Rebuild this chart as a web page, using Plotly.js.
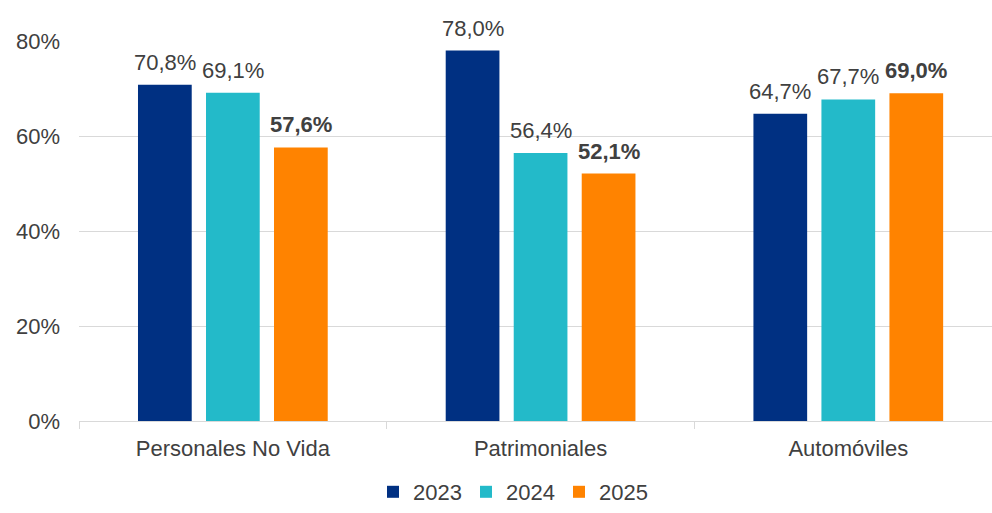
<!DOCTYPE html>
<html>
<head>
<meta charset="utf-8">
<script src="https://cdn.plot.ly/plotly-3.0.1.min.js"></script>
<style>html,body{margin:0;padding:0;background:#fff;}#chart{width:992px;height:513px;}</style>
</head>
<body>
<div id="chart"></div>
<script>
const categories = ["Personales No Vida", "Patrimoniales", "Automóviles"];
const seriesNames = ["2023", "2024", "2025"];
const values2023 = [70.8, 78.0, 64.7];
const values2024 = [69.1, 56.4, 67.7];
const values2025 = [57.6, 52.1, 69.0];
const yTickVals = [0, 20, 40, 60, 80];
const yTickText = ["0%", "20%", "40%", "60%", "80%"];

const colors = ["#003082", "#23BAC9", "#FF8300"];
const allValues = [values2023, values2024, values2025];
const boldSeries = [false, false, true];
const FONT = "Liberation Sans, Arial, sans-serif";
const TXT = "#404040";
const bargap = 0.337;

function fmt(v) { return v.toFixed(1).replace(".", ",") + "%"; }

const traces = allValues.map((vals, i) => ({
  type: "bar",
  name: seriesNames[i],
  x: categories,
  y: vals,
  marker: { color: colors[i] },
  hoverinfo: "skip"
}));

const slot = (1 - bargap) / 3;
const annotations = [];
allValues.forEach((vals, i) => {
  vals.forEach((v, j) => {
    annotations.push({
      x: j + (i - 1) * slot,
      y: v,
      xref: "x", yref: "y",
      text: boldSeries[i] ? "<b>" + fmt(v) + "</b>" : fmt(v),
      showarrow: false,
      yanchor: "bottom",
      yshift: 8,
      font: { family: FONT, size: 22, color: TXT }
    });
  });
});

const layout = {
  width: 992, height: 513,
  margin: { l: 79, r: 0, t: 41, b: 91.5, autoexpand: false },
  paper_bgcolor: "#fff", plot_bgcolor: "#fff",
  barmode: "group",
  bargap: bargap,
  bargroupgap: 0.21,
  font: { family: FONT, size: 22, color: TXT },
  xaxis: {
    type: "category",
    range: [-0.5, 2.467],
    showgrid: false,
    showline: true, linecolor: "#d9d9d9", linewidth: 1,
    ticks: "outside", tickson: "boundaries", ticklen: 7, tickcolor: "#d9d9d9",
    ticklabelstandoff: 8,
    tickfont: { family: FONT, size: 22, color: TXT },
    fixedrange: true
  },
  yaxis: {
    range: [0, 80],
    tickvals: yTickVals, ticktext: yTickText,
    showgrid: true, gridcolor: "#d9d9d9", gridwidth: 1,
    zeroline: false, showline: false,
    ticks: "", ticklabelstandoff: 18,
    tickfont: { family: FONT, size: 22, color: TXT },
    fixedrange: true
  },
  showlegend: true,
  legend: {
    orientation: "h",
    x: 0.322, xref: "paper", xanchor: "left",
    y: 0, yref: "container", yanchor: "bottom",
    entrywidth: 48, entrywidthmode: "pixels",
    font: { family: FONT, size: 22, color: TXT },
    traceorder: "normal"
  },
  annotations: annotations
};

Plotly.newPlot("chart", traces, layout, { displayModeBar: false, staticPlot: true });
</script>
</body>
</html>
